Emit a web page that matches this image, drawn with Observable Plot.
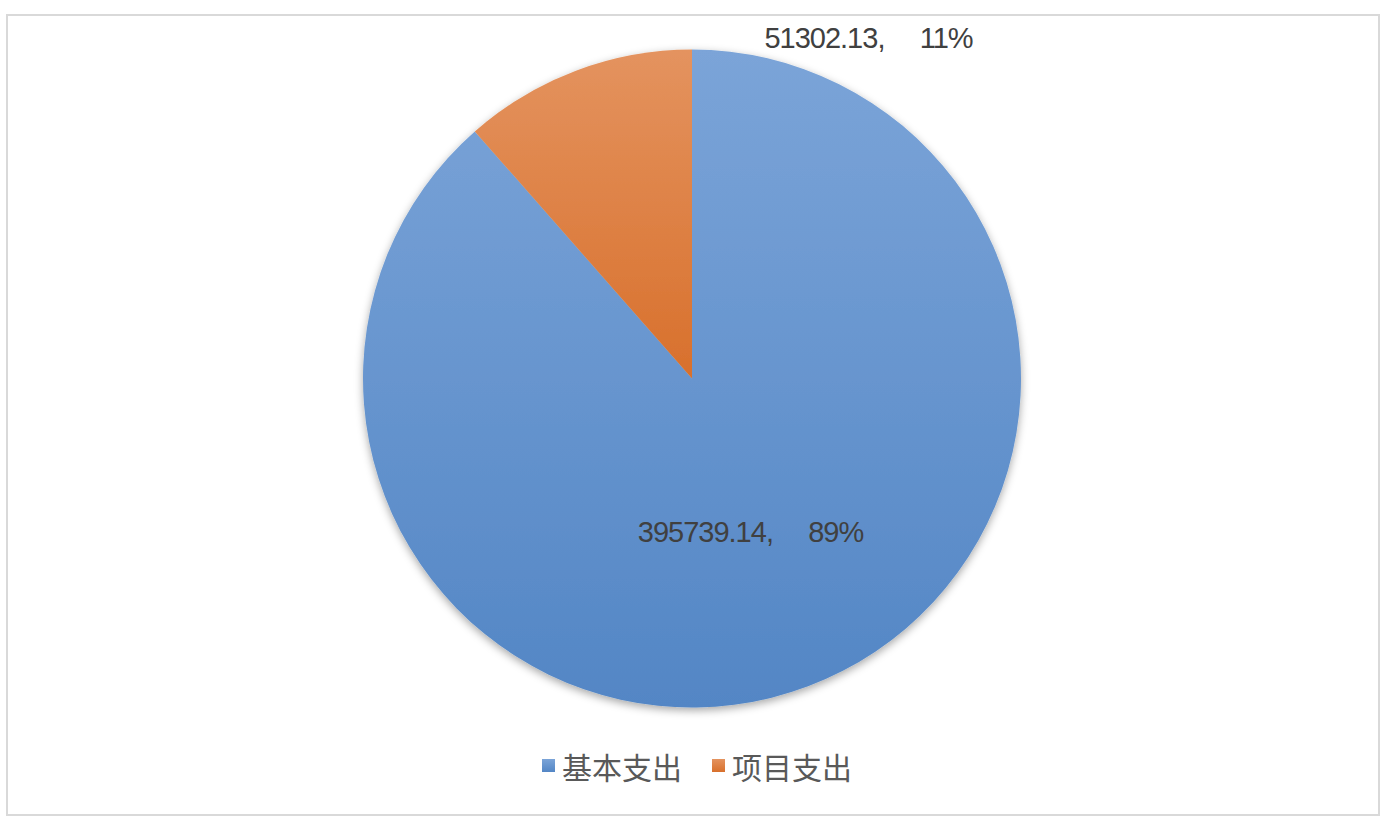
<!DOCTYPE html>
<html>
<head>
<meta charset="utf-8">
<script src="https://cdn.jsdelivr.net/npm/d3@7"></script>
<script src="https://cdn.jsdelivr.net/npm/@observablehq/plot@0.6"></script>
<style>
  html, body { margin: 0; padding: 0; background: #fff; }
  #wrap { position: relative; width: 1388px; height: 828px; overflow: hidden; }
  #frame { position: absolute; left: 6px; top: 14px; width: 1374px; height: 802px; box-sizing: border-box; border: 2px solid #d9d9d9; }
  #chart { position: absolute; left: 0; top: 0; }
  #chart text { letter-spacing: -1px; }
  #legend { position: absolute; left: 0; top: 737px; width: 1394px; text-align: center; font-family: "Noto Sans CJK SC", sans-serif; font-size: 30px; line-height: 44px; color: #595959; }
  .item { display: inline-flex; align-items: center; margin: 0 15px; }
  .sw { display: inline-block; width: 13px; height: 13px; margin-right: 7px; }
</style>
</head>
<body>
<div id="wrap">
  <div id="frame"></div>
  <div id="chart"></div>
  <div id="legend"></div>
</div>
<script>
// ---- data ----
const categories = ["基本支出", "项目支出"];
const amounts = [395739.14, 51302.13];
const colorsTop = ["#7ba4d8", "#e4935f"];
const colorsBottom = ["#5386c5", "#d8702c"];

// label placement (unit-circle coordinates; radius fraction for inside label)
const labelPlacement = [
  {kind: "inside", r: 0.5},
  {kind: "outside", x: 0.535, y: 1.035}
];

const total = d3.sum(amounts);
const table = categories.map((c, i) => ({
  category: c, value: amounts[i], i,
  pct: Math.round(amounts[i] / total * 100)
}));
const arcs = d3.pie().sort(null).value(d => d.value)(table); // clockwise from 12 o'clock

const labels = arcs.map((a, i) => {
  const p = labelPlacement[i];
  let x, y;
  if (p.kind === "inside") {
    const mid = (a.startAngle + a.endAngle) / 2;
    x = Math.sin(mid) * p.r;
    y = Math.cos(mid) * p.r;
  } else { x = p.x; y = p.y; }
  return {x, y, text: a.data.value.toFixed(2) + ",\u00a0\u00a0\u00a0\u00a0\u00a0" + a.data.pct + "%"};
});

const pieMark = (index, scales, values, dimensions) => {
  const cx = scales.x(0), cy = scales.y(0);
  const r = Math.abs(scales.x(1) - scales.x(0));
  const g = d3.create("svg:g");
  const defs = g.append("defs");
  const f = defs.append("filter").attr("id", "pshadow").attr("x", "-10%").attr("y", "-10%").attr("width", "120%").attr("height", "125%");
  f.append("feDropShadow").attr("dx", 0).attr("dy", 3).attr("stdDeviation", 4).attr("flood-color", "#000").attr("flood-opacity", 0.35);
  arcs.forEach((a, i) => {
    const lg = defs.append("linearGradient").attr("id", "grad" + i)
      .attr("x1", 0).attr("y1", 0).attr("x2", 0).attr("y2", 1);
    lg.append("stop").attr("offset", "0%").attr("stop-color", colorsTop[i]);
    lg.append("stop").attr("offset", "100%").attr("stop-color", colorsBottom[i]);
  });
  const arcGen = d3.arc().innerRadius(0).outerRadius(r);
  const pg = g.append("g").attr("transform", `translate(${cx},${cy})`).attr("filter", "url(#pshadow)");
  pg.selectAll("path").data(arcs).join("path")
    .attr("d", arcGen)
    .attr("fill", (d, i) => `url(#grad${i})`);
  return g.node();
};

const chart = Plot.plot({
  width: 1388,
  height: 740,
  margin: 0,
  x: {domain: [-1, 1], range: [692 - 329, 692 + 329], axis: null},
  y: {domain: [-1, 1], range: [378.5 + 329, 378.5 - 329], axis: null},
  style: {background: "transparent", overflow: "visible"},
  marks: [
    pieMark,
    Plot.text(labels, {
      x: "x", y: "y", text: "text",
      fontSize: 29, fill: "#404040", textAnchor: "middle",
      fontFamily: "Liberation Sans, Arial, sans-serif"
    })
  ]
});
document.getElementById("chart").appendChild(chart);

// legend
const leg = document.getElementById("legend");
categories.forEach((c, i) => {
  const it = document.createElement("span");
  it.className = "item";
  const sw = document.createElement("span");
  sw.className = "sw";
  sw.style.background = `linear-gradient(${colorsTop[i]}, ${colorsBottom[i]})`;
  it.appendChild(sw);
  const t = document.createElement("span");
  t.textContent = c;
  it.appendChild(t);
  leg.appendChild(it);
});
</script>
</body>
</html>
